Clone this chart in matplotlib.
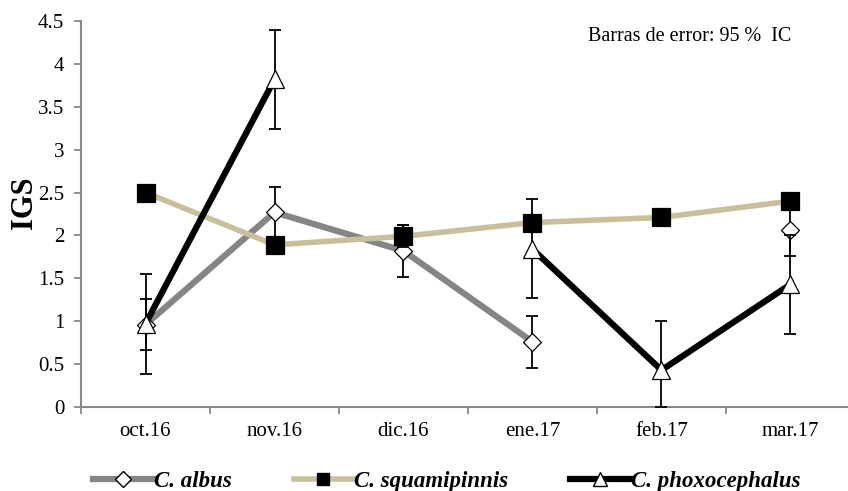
import numpy as np
import matplotlib.pyplot as plt
from matplotlib.lines import Line2D

# Data
months = ['oct.16', 'nov.16', 'dic.16', 'ene.17', 'feb.17', 'mar.17']
nan = np.nan

albus = [0.96, 2.27, 1.82, 0.76, nan, 2.06]
albus_lo = [0.66, 1.97, 1.52, 0.45, nan, 1.76]
albus_hi = [1.26, 2.56, 2.12, 1.06, nan, 2.36]

squam = [2.50, 1.89, 1.99, 2.15, 2.21, 2.40]
squam_lo = [2.45, 1.85, 1.86, 2.10, 2.17, 2.36]
squam_hi = [2.55, 1.93, 2.12, 2.20, 2.25, 2.44]

phox = [0.97, 3.82, nan, 1.84, 0.43, 1.43]
phox_lo = [0.39, 3.24, nan, 1.27, 0.0, 0.85]
phox_hi = [1.55, 4.40, nan, 2.42, 1.00, 2.01]

plt.rcParams['font.family'] = ['Liberation Serif', 'DejaVu Serif']

fig = plt.figure(figsize=(8.48, 4.91), dpi=100)
ax = fig.add_axes([81 / 848, 84 / 491, 774 / 848, 386 / 491])

x = np.arange(len(months))


def draw(vals, lo, hi, color, lw, marker, mfc, ms, z):
    v = np.array(vals)
    err = [v - np.array(lo), np.array(hi) - v]
    ax.errorbar(x, v, yerr=err, fmt='none', ecolor='black', elinewidth=1.3,
                capsize=4.5, capthick=1.3, zorder=z)
    ax.plot(x, v, color=color, lw=lw, zorder=z + 0.5)
    ax.plot(x, v, ls='none', marker=marker, mfc=mfc, mec='black', mew=0.9,
            ms=ms, zorder=z + 0.6)


draw(albus, albus_lo, albus_hi, '#858585', 4.5, 'D', 'white', 9.5, 2)
draw(squam, squam_lo, squam_hi, '#c9c09b', 4.0, 's', 'black', 12.5, 3)
draw(phox, phox_lo, phox_hi, 'black', 4.5, '^', 'white', 13, 4)

ax.set_xlim(-0.5, len(months) - 0.5)
ax.set_ylim(0, 4.5)
ax.set_yticks(np.arange(0, 4.51, 0.5))
ax.set_yticklabels(['0', '0.5', '1', '1.5', '2', '2.5', '3', '3.5', '4', '4.5'])
ax.set_xticks(x)
ax.set_xticklabels(months)
ax.set_xticks(np.arange(-0.5, len(months), 1), minor=True)
ax.tick_params(axis='x', which='major', length=0, labelsize=15, pad=11)
ax.tick_params(axis='x', which='minor', length=5, color='#888888', width=1.3)
ax.tick_params(axis='y', length=5, color='#888888', width=1.3, labelsize=15, pad=7)

for s in ['top', 'right']:
    ax.spines[s].set_visible(False)
for s in ['left', 'bottom']:
    ax.spines[s].set_color('#888888')
    ax.spines[s].set_linewidth(1.5)

ax.set_ylabel('IGS', fontsize=22, fontweight='bold')
ax.yaxis.set_label_coords(-0.054, 0.528)
ax.text(0.655, 0.961, 'Barras de error: 95 %  IC', transform=ax.transAxes,
        fontsize=14.5, va='center', ha='left')

handles = [
    Line2D([], [], color='#858585', lw=4.5, marker='D', mfc='white', mec='black', ms=8),
    Line2D([], [], color='#c9c09b', lw=4.0, marker='s', mfc='black', mec='black', ms=9),
    Line2D([], [], color='black', lw=4.5, marker='^', mfc='white', mec='black', ms=10),
]
labels = ['C. albus', 'C. squamipinnis', 'C. phoxocephalus']
fig.legend(handles, labels, loc='center', bbox_to_anchor=(0.527, 0.02), ncol=3,
           frameon=False, handlelength=2.6, handletextpad=0.05, columnspacing=2.7,
           borderpad=0, prop={'style': 'italic', 'weight': 'bold', 'size': 16.5})

fig.savefig('out.png', dpi=100)
